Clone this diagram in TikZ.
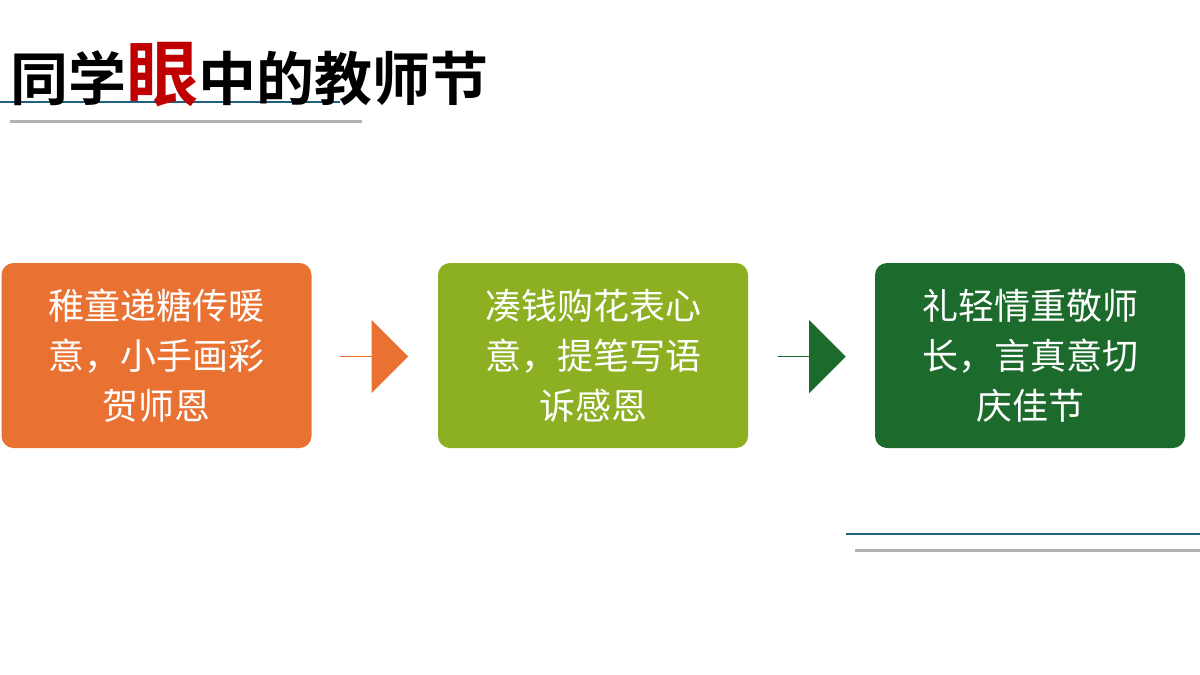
\documentclass[tikz,border=0pt]{standalone}
\usepackage{fontspec}
\newfontfamily\cjk{Noto Sans CJK SC}
\newfontfamily\cjkb{Noto Sans CJK SC Bold}
\usetikzlibrary{shapes.arrows}
\definecolor{ora}{HTML}{E97132}
\definecolor{grn}{HTML}{8CB021}
\definecolor{dgr}{HTML}{1D6B2C}
\definecolor{lblue}{HTML}{1F5F80}
\tikzset{x=1pt,y=-1pt,
 card/.style={rounded corners=12pt,minimum width=310pt,minimum height=185pt,text=white,font=\cjk\fontsize{36}{50}\selectfont,align=center,inner sep=0pt},
 arr/.style={single arrow,minimum width=73pt,minimum height=68pt,single arrow head extend=15pt,inner sep=0pt,shape border rotate=0,draw=none}}
\begin{document}
\begin{tikzpicture}
\useasboundingbox (0,0) rectangle (1200,675);
\fill[white] (0,0) rectangle (1200,675);
\draw[lblue,line width=2.5pt] (0,102) -- (340,102);
\draw[gray!60,line width=3pt] (10,121) -- (362,121);
\node[anchor=base west,inner sep=0pt,font=\cjkb\fontsize{58}{58}\selectfont] (t) at (10,100) {同学\textcolor[HTML]{C00000}{\fontsize{72}{72}\selectfont 眼}中的教师节};
\node[card,fill=ora] (a) at (156.5,355.5) {稚童递糖传暖\\意，小手画彩\\贺师恩};
\node[card,fill=grn] (b) at (593,355.5) {凑钱购花表心\\意，提笔写语\\诉感恩};
\node[card,fill=dgr] (c) at (1030,355.5) {礼轻情重敬师\\长，言真意切\\庆佳节};
\node[arr,fill=ora] (r1) at (374,356.5) {};
\node[arr,fill=dgr] (r2) at (811.5,356.5) {};
\draw[lblue,line width=2.5pt] (846,534) -- (1200,534);
\draw[gray!60,line width=3pt] (855,550) -- (1200,550);
\end{tikzpicture}
\end{document}
